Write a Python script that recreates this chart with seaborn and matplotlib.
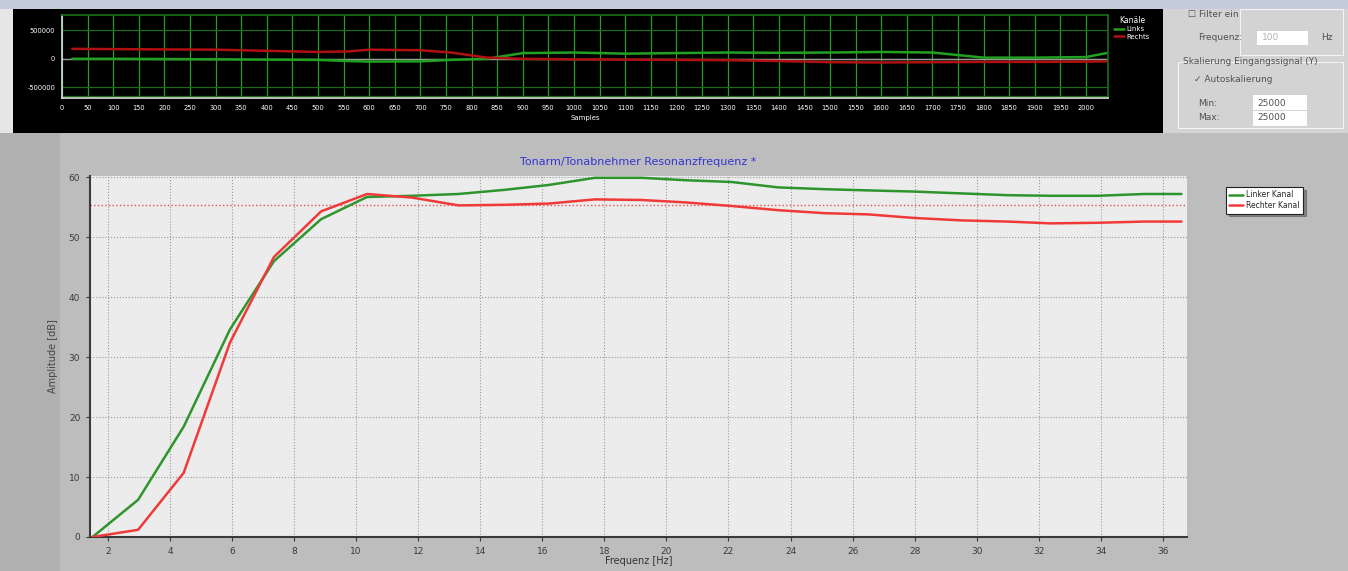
import numpy as np
import pandas as pd
import matplotlib
matplotlib.use("Agg")
import matplotlib.pyplot as plt
from matplotlib.patches import Rectangle
import seaborn as sns

sns.set_theme(style="white")
plt.rcParams['font.family'] = ['DejaVu Sans']

# --- Resonanz-Messung (Hauptdiagramm) ---
freq = [1.5, 2.97, 4.44, 5.93, 7.35, 8.87, 10.35, 11.8, 13.3, 14.8, 16.2, 17.7, 19.2,
        20.6, 22.1, 23.6, 25.1, 26.5, 28.0, 29.5, 31.0, 32.4, 33.9, 35.4, 36.6]
linker_kanal = [0, 6.2, 18.4, 34.6, 46.0, 53.0, 56.7, 56.9, 57.2, 57.9, 58.7, 59.9, 59.9,
                59.5, 59.2, 58.3, 58.0, 57.8, 57.6, 57.3, 57.0, 56.9, 56.9, 57.2, 57.2]
rechter_kanal = [0, 1.2, 10.7, 32.4, 46.7, 54.3, 57.2, 56.6, 55.3, 55.4, 55.6, 56.3, 56.2,
                 55.8, 55.2, 54.5, 54.0, 53.8, 53.2, 52.8, 52.6, 52.3, 52.4, 52.6, 52.6]
referenz_db = 55.3
x_ticks = list(range(2, 37, 2))
y_ticks = list(range(0, 61, 10))

# --- Eingangssignal (oberes Diagramm) ---
samples = [20, 100, 200, 300, 400, 500, 560, 600, 700, 760, 830, 900, 1000, 1100, 1200,
           1300, 1400, 1500, 1600, 1700, 1800, 1900, 2000, 2040]
links = [0, 0, -5000, -10000, -15000, -20000, -40000, -50000, -45000, -20000, 0, 100000,
         110000, 90000, 100000, 110000, 105000, 110000, 120000, 110000, 20000, 20000, 30000, 100000]
rechts = [175000, 170000, 165000, 160000, 140000, 120000, 130000, 160000, 150000, 110000,
          20000, 0, -10000, -15000, -20000, -25000, -40000, -60000, -65000, -60000, -55000,
          -55000, -50000, -45000]
sample_ticks = list(range(0, 2001, 50))

W, H = 1348, 571
fig = plt.figure(figsize=(W / 100, H / 100), dpi=100)
fig.patch.set_facecolor('#bdbdbd')


def px_rect(x0, y0, x1, y1, color, **kw):
    # rectangle in pixel coords (top-left origin), drawn behind the axes
    fig.patches.append(Rectangle((x0 / W, 1 - y1 / H), (x1 - x0) / W, (y1 - y0) / H,
                                 transform=fig.transFigure, facecolor=color,
                                 edgecolor=kw.pop('edgecolor', 'none'), zorder=-5, **kw))


px_rect(0, 0, W, 9, '#c3ccd8')
px_rect(0, 9, 13, 133, '#e6e6e6')
px_rect(13, 9, 1163, 133, '#000000')
px_rect(1163, 9, W, 133, '#d3d3d3')
px_rect(1240, 9, 1343, 55, 'none', edgecolor='#f4f4f4', linewidth=0.8)
px_rect(1178, 62, 1343, 128, 'none', edgecolor='#f4f4f4', linewidth=0.8)
px_rect(1257, 31, 1308, 45, '#ffffff')
px_rect(1253, 95, 1307, 110, '#ffffff')
px_rect(1253, 111, 1307, 126, '#ffffff')
px_rect(0, 133, 60, H, '#b0b0b0')

# right control panel texts
ui = dict(fontsize=6.5, color='#505050', va='center', ha='left')
fig.text(1188 / W, 1 - 14 / H, '\u2610 Filter ein', **ui)
fig.text(1198 / W, 1 - 38 / H, 'Frequenz:', **ui)
fig.text(1262 / W, 1 - 38 / H, '100', fontsize=6.5, color='#b0b0b0', va='center')
fig.text(1321 / W, 1 - 38 / H, 'Hz', **ui)
fig.text(1183 / W, 1 - 62 / H, 'Skalierung Eingangssignal (Y)', **ui)
fig.text(1194 / W, 1 - 79 / H, '\u2713 Autoskalierung', **ui)
fig.text(1198 / W, 1 - 103 / H, 'Min:', **ui)
fig.text(1198 / W, 1 - 118 / H, 'Max:', **ui)
fig.text(1257 / W, 1 - 103 / H, '25000', **ui)
fig.text(1257 / W, 1 - 118 / H, '25000', **ui)

# ---------- oberes Diagramm ----------
ax_top = fig.add_axes([62 / W, 1 - 98 / H, 1046 / W, 83 / H])
ax_top.set_zorder(2)
ax_top.set_facecolor('#000000')
sig = pd.DataFrame({'Sample': samples * 2,
                    'Wert': links + rechts,
                    'Kanal': ['Links'] * len(samples) + ['Rechts'] * len(samples)})
ax_top.axhline(0, color='#9a9a9a', linewidth=1.0, zorder=1)
sns.lineplot(data=sig, x='Sample', y='Wert', hue='Kanal',
             palette={'Links': '#22a022', 'Rechts': '#b01010'},
             linewidth=1.8, estimator=None, sort=False, ax=ax_top, zorder=2)
ax_top.set_xlim(0, 2043)
ax_top.set_ylim(-690000, 770000)
ax_top.set_xticks(sample_ticks)
ax_top.set_xticklabels([str(s) for s in sample_ticks])
ax_top.set_yticks([500000, 0, -500000])
ax_top.set_yticklabels(['500000', '0', '-500000'])
ax_top.tick_params(colors='white', labelsize=4.8, length=3, width=0.8, pad=2)
ax_top.grid(True, axis='x', color='#2a9a2a', linewidth=0.9)
ax_top.grid(True, axis='y', color='#1a6a1a', linewidth=0.9)
ax_top.axhline(-660000, color='#1a6a1a', linewidth=0.9)
for s in ['top', 'right']:
    ax_top.spines[s].set_color('#1a6a1a')
for s in ['left', 'bottom']:
    ax_top.spines[s].set_color('#dddddd')
    ax_top.spines[s].set_linewidth(1.2)
ax_top.set_xlabel('Samples', color='white', fontsize=5, labelpad=3)
ax_top.set_ylabel('')
leg_top = ax_top.legend(title='Kan\u00e4le', loc='upper left', bbox_to_anchor=(1.002, 1.04),
                        frameon=False, fontsize=5, title_fontsize=5.5, handlelength=1.4,
                        labelspacing=0.2, borderpad=0.1, handletextpad=0.3)
leg_top.get_title().set_color('white')
for t in leg_top.get_texts():
    t.set_color('white')

# ---------- Hauptdiagramm ----------
ax = fig.add_axes([90 / W, 1 - 537 / H, 1097 / W, 361 / H])
ax.set_zorder(2)
ax.set_facecolor('#ececec')
df = pd.DataFrame({'Frequenz': freq * 2,
                   'Amplitude': linker_kanal + rechter_kanal,
                   'Kanal': ['Linker Kanal'] * len(freq) + ['Rechter Kanal'] * len(freq)})
ax.axhline(referenz_db, color='#e85050', linestyle=':', linewidth=1.0, zorder=1)
sns.lineplot(data=df, x='Frequenz', y='Amplitude', hue='Kanal',
             palette={'Linker Kanal': '#2e952e', 'Rechter Kanal': '#f03a3a'},
             linewidth=1.8, estimator=None, sort=False, ax=ax, zorder=3)
ax.set_xlim(1.42, 36.78)
ax.set_ylim(0, 60.2)
ax.set_xticks(x_ticks)
ax.set_yticks(y_ticks)
ax.grid(True, color='#9a9a9a', linestyle=':', linewidth=0.8)
ax.tick_params(labelsize=6.5, colors='#3a3a3a', length=3, width=0.8, pad=4,
               left=True, bottom=True)
for s in ['top', 'right']:
    ax.spines[s].set_visible(False)
for s in ['left', 'bottom']:
    ax.spines[s].set_color('#3a3a3a')
    ax.spines[s].set_linewidth(1.5)
ax.set_title('Tonarm/Tonabnehmer Resonanzfrequenz *', color='#3535d0', fontsize=8, pad=8)
ax.set_xlabel('Frequenz [Hz]', fontsize=7, color='#333333', labelpad=0)
ax.set_ylabel('Amplitude [dB]', fontsize=7, color='#444444', labelpad=8)
leg = ax.legend(loc='upper left', bbox_to_anchor=((1222 - 90) / 1097, (537 - 183) / 361),
                fontsize=5.5, frameon=True, fancybox=False, shadow=True, edgecolor='#222222',
                framealpha=1, handlelength=1.8, labelspacing=0.25, borderpad=0.45,
                handletextpad=0.4)
leg.get_frame().set_linewidth(0.8)

fig.savefig('out.png', dpi=100, facecolor=fig.get_facecolor())
